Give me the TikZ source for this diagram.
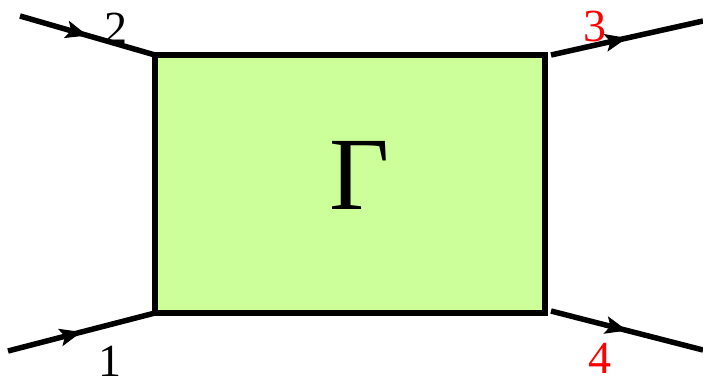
\documentclass[tikz,border=0pt]{standalone}
\usepackage{fontspec}
\setmainfont{Liberation Serif}
\usetikzlibrary{arrows.meta,decorations.markings}
\definecolor{vertexgreen}{RGB}{204,255,153}
\tikzset{
	leg/.style={line width=5.5pt, postaction={decorate},
		decoration={markings, mark=at position 0.5 with {\arrow[line width=1pt]{Stealth[length=22pt,width=18pt,inset=5pt]}}}},
	lbl/.style={font=\fontsize{46}{50}\selectfont, inner sep=0pt},
}
\begin{document}
\begin{tikzpicture}[x=1pt, y=-1pt]

	\useasboundingbox (0,0) rectangle (703,385);

	\node[draw, fill=vertexgreen, line width=5.5pt, inner sep=0pt, outer sep=0pt,
		minimum width=390pt, minimum height=258pt] (G) at (350,184) {};
	\node[font=\fontsize{104}{110}\selectfont, inner sep=0pt] (Gamma) at (360,175) {Γ};

	\coordinate (in2) at (20,16);
	\coordinate (in1) at (8,351);
	\coordinate (out3) at (703,21);
	\coordinate (out4) at (703,350);

	\draw[leg] (in2) -- (G.north west);
	\draw[leg] (in1) -- (G.south west);
	\draw[leg] (G.north east) ++(6,0) coordinate (g3) (g3) -- (out3);
	\draw[leg] (G.south east) ++(6,-2) coordinate (g4) (g4) -- (out4);

	\node[lbl] (l2) at (116,28) {2};
	\node[lbl] (l1) at (110,361) {1};
	\node[lbl, text=red] (l3) at (595,26) {3};
	\node[lbl, text=red] (l4) at (600,358) {4};

\end{tikzpicture}
\end{document}
